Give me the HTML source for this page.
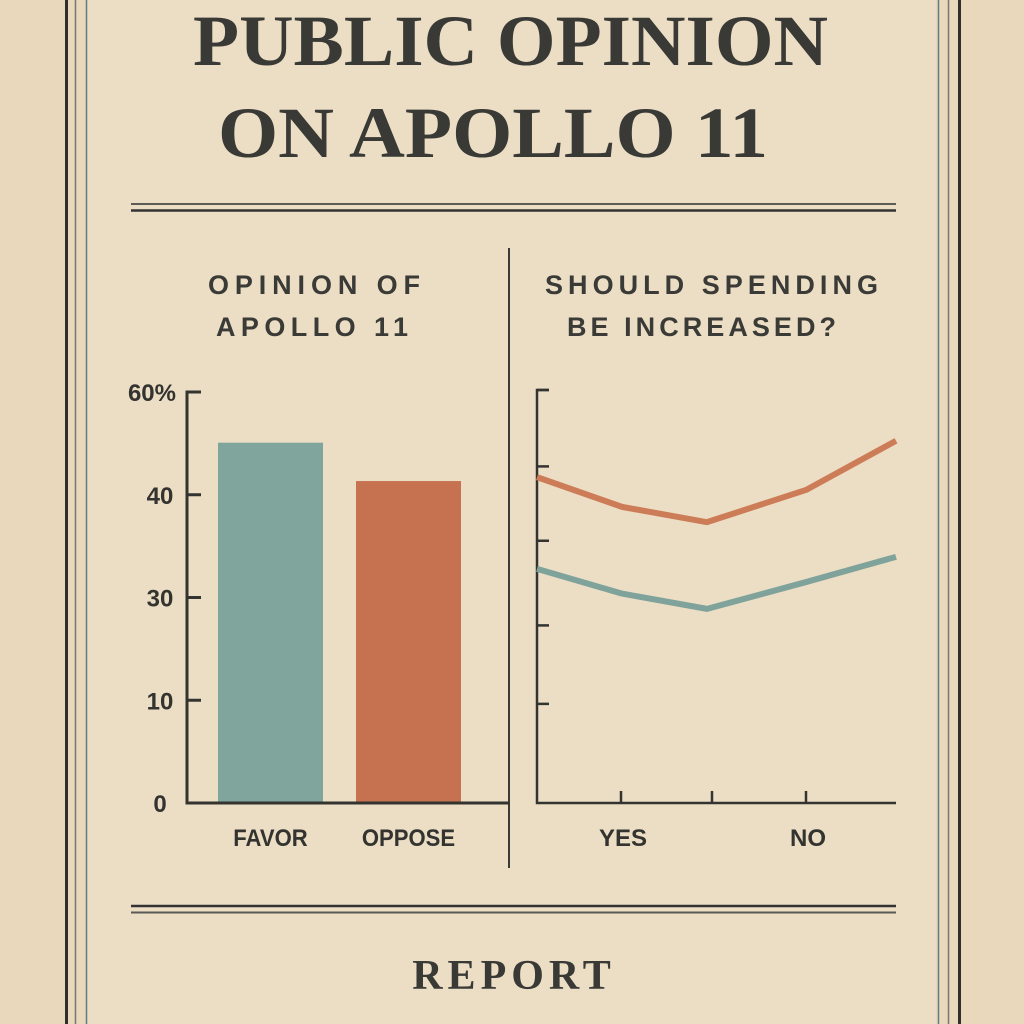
<!DOCTYPE html>
<html><head><meta charset="utf-8">
<style>
html,body{margin:0;padding:0;background:#ead9bd;}
svg{display:block}
</style></head>
<body>
<svg width="1024" height="1024" viewBox="0 0 1024 1024" xmlns="http://www.w3.org/2000/svg">
<rect x="0" y="0" width="1024" height="1024" fill="#e9d8bb"/>
<rect x="88" y="0" width="848" height="1024" fill="#ecdec4"/>
<g>
<line x1="66.5" y1="0" x2="66.5" y2="1024" stroke="#2f2f2c" stroke-width="3"/>
<line x1="75.5" y1="0" x2="75.5" y2="1024" stroke="#777" stroke-width="1.5"/>
<line x1="86.5" y1="0" x2="86.5" y2="1024" stroke="#5f7f88" stroke-width="1.5"/>
<line x1="959.5" y1="0" x2="959.5" y2="1024" stroke="#2f2f2c" stroke-width="3"/>
<line x1="948.5" y1="0" x2="948.5" y2="1024" stroke="#777" stroke-width="1.5"/>
<line x1="938.5" y1="0" x2="938.5" y2="1024" stroke="#5f7f88" stroke-width="1.5"/>
</g>
<g font-family="'Liberation Serif', serif" font-weight="bold" fill="#393936">
<text x="193" y="65" font-size="72" textLength="635" lengthAdjust="spacingAndGlyphs">PUBLIC OPINION</text>
<text x="218" y="157" font-size="72" textLength="550" lengthAdjust="spacingAndGlyphs">ON APOLLO 11</text>
</g>
<g>
<line x1="131" y1="204" x2="896" y2="204" stroke="#5a5a56" stroke-width="2"/>
<line x1="131" y1="210.5" x2="896" y2="210.5" stroke="#333" stroke-width="2.5"/>
</g>
<line x1="509" y1="248" x2="509" y2="868" stroke="#3a3a37" stroke-width="2"/>
<g font-family="'Liberation Sans', sans-serif" font-size="27" font-weight="bold" fill="#3a3a37" lengthAdjust="spacing">
<text x="208" y="294" textLength="212">OPINION OF</text>
<text x="216" y="336" textLength="192">APOLLO 11</text>
<text x="545" y="294" textLength="333">SHOULD SPENDING</text>
<text x="567" y="336" textLength="269">BE INCREASED?</text>
</g>
<g id="left"></g>
<g id="right"></g>
<g>
<line x1="131" y1="906" x2="896" y2="906" stroke="#333" stroke-width="2.5"/>
<line x1="131" y1="912.5" x2="896" y2="912.5" stroke="#5a5a56" stroke-width="2"/>
</g>
<text x="514" y="989" font-family="'Liberation Serif', serif" font-weight="bold" font-size="42" letter-spacing="5" fill="#393936" text-anchor="middle">REPORT</text>
</svg>
<script>
const barCategories = ["FAVOR","OPPOSE"];
const barValues = [52.6, 47.0];
const barTickValues = [0,15,30,45,60];
const barTickLabels = ["0","10","30","40","60%"];
const lineCategories = ["YES","","NO"];
const orangeValues = [78.9, 71.7, 68.0, 75.8, 87.7];
const tealValues = [56.7, 50.7, 47.0, 53.5, 59.6];
const lineYTicks = [24, 43, 63.5, 81.5, 100];

const NS="http://www.w3.org/2000/svg";
function mk(tag, attrs, parent){const e=document.createElementNS(NS,tag);for(const k in attrs)e.setAttribute(k,attrs[k]);parent.appendChild(e);return e;}
const ink="#333330";

const L=document.getElementById('left');
const bx0=187, by0=803, byTop=392, bMax=60;
const by=v=>by0-(v/bMax)*(by0-byTop);
const barX=i=>218+i*138, barW=105;
barValues.forEach((v,i)=>{
  const r=mk('rect',{x:barX(i),y:by(v),width:barW,height:by0-by(v),fill:i===0?"#80a59c":"#c6714f"},L);
  
  
  const cx=barX(i)+barW/2;
  const t=mk('text',{x:cx,y:846,'font-family':"'Liberation Sans', sans-serif",'font-size':24,'font-weight':'bold','text-anchor':'middle',fill:ink,transform:`translate(${cx} 0) scale(0.92 1) translate(${-cx} 0)`},L);
  t.textContent=barCategories[i];
  
  
});
const ax=mk('path',{d:`M${bx0+14} ${byTop} H${bx0} V${by0} H509`,stroke:ink,'stroke-width':3,fill:'none'},L);


barTickValues.forEach((v,i)=>{
  if(i>0&&i<4){const tk=mk('line',{x1:bx0,x2:bx0+14,y1:by(v),y2:by(v),stroke:ink,'stroke-width':3},L);
  
  }
  const t=mk('text',{x:i===4?176:160,y:by(v)+9,'font-family':"'Liberation Sans', sans-serif",'font-size':24,'font-weight':'bold','text-anchor':i===4?'end':'middle',fill:ink},L);
  t.textContent=barTickLabels[i];
  
  
});

const R=document.getElementById('right');
const lx0=537, lx1=896, ly0=803, lyTop=390;
const ly=v=>ly0-(v/100)*(ly0-lyTop);
const la=mk('path',{d:`M${lx0+12} ${lyTop} H${lx0} V${ly0} H${lx1}`,stroke:ink,'stroke-width':2.5,fill:'none'},R);


lineYTicks.forEach(v=>{
  const tk=mk('line',{x1:lx0,x2:lx0+12,y1:ly(v),y2:ly(v),stroke:ink,'stroke-width':2.5},R);
  
  
});
const xTickPos=[621,712,806];
lineCategories.forEach((c,i)=>{
  const tk=mk('line',{x1:xTickPos[i],x2:xTickPos[i],y1:ly0-12,y2:ly0,stroke:ink,'stroke-width':2.5},R);
  
  
  if(c){const t=mk('text',{x:xTickPos[i]+2,y:846,'font-family':"'Liberation Sans', sans-serif",'font-size':24,'font-weight':'bold','text-anchor':'middle',fill:ink},R);
  t.textContent=c;
  
  }
});
const px=[537,622,707,806,896];
function series(vals,color,name){
  const d=vals.map((v,i)=>(i?'L':'M')+px[i]+' '+ly(v)).join(' ');
  const p=mk('path',{d:d,stroke:color,'stroke-width':6,fill:'none','stroke-linejoin':'round'},R);
  
  
}
series(orangeValues,"#cd7c58","line-orange");
series(tealValues,"#7fa39b","line-teal");
</script>
</body></html>
